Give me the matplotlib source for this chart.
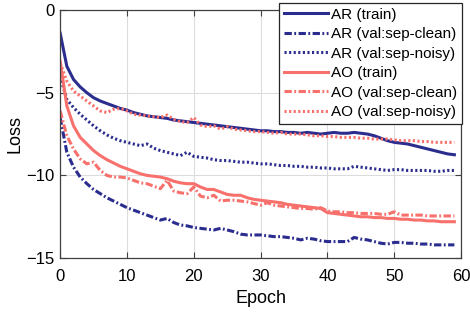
import matplotlib
matplotlib.use("Agg")
import matplotlib.pyplot as plt
import numpy as np

epochs = list(range(60))

ar_train = [-1.4, -3.4, -4.2, -4.65, -5.0, -5.3, -5.5, -5.65, -5.8, -5.95,
            -6.05, -6.2, -6.3, -6.4, -6.45, -6.5, -6.55, -6.65, -6.7, -6.75,
            -6.8, -6.85, -6.9, -6.95, -7.0, -7.05, -7.1, -7.15, -7.2, -7.25,
            -7.3, -7.3, -7.35, -7.35, -7.4, -7.4, -7.45, -7.4, -7.45, -7.5,
            -7.45, -7.4, -7.45, -7.45, -7.4, -7.45, -7.5, -7.6, -7.75, -7.9,
            -8.0, -8.05, -8.1, -8.2, -8.3, -8.4, -8.5, -8.6, -8.7, -8.75]

ar_val_clean = [-6.5, -8.6, -9.5, -10.1, -10.5, -10.85, -11.1, -11.35, -11.55, -11.75,
                -11.95, -12.1, -12.25, -12.4, -12.55, -12.7, -12.6, -12.85, -13.0, -13.05,
                -13.15, -13.2, -13.25, -13.3, -13.2, -13.3, -13.4, -13.55, -13.6, -13.6,
                -13.6, -13.65, -13.7, -13.7, -13.75, -13.8, -13.9, -13.8, -13.85, -13.95,
                -14.0, -14.0, -14.0, -14.0, -13.75, -13.85, -13.9, -14.0, -14.1, -14.15,
                -14.05, -14.05, -14.1, -14.1, -14.15, -14.15, -14.2, -14.2, -14.2, -14.2]

ar_val_noisy = [-4.0, -5.4, -5.9, -6.3, -6.65, -7.0, -7.3, -7.55, -7.75, -7.9,
                -8.0, -8.1, -8.2, -8.1, -8.35, -8.5, -8.6, -8.7, -8.8, -8.6,
                -8.85, -8.9, -8.95, -9.05, -9.1, -9.1, -9.15, -9.2, -9.2, -9.25,
                -9.3, -9.3, -9.35, -9.4, -9.4, -9.45, -9.45, -9.5, -9.5, -9.55,
                -9.55, -9.6, -9.6, -9.6, -9.45, -9.5, -9.55, -9.6, -9.65, -9.7,
                -9.65, -9.65, -9.7, -9.7, -9.7, -9.7, -9.75, -9.75, -9.7, -9.7]

ao_train = [-3.1, -5.8, -7.0, -7.7, -8.1, -8.5, -8.8, -9.05, -9.25, -9.45,
            -9.6, -9.75, -9.9, -10.0, -10.05, -10.1, -10.2, -10.35, -10.45, -10.5,
            -10.5, -10.7, -10.85, -10.85, -11.0, -11.15, -11.2, -11.2, -11.35, -11.45,
            -11.5, -11.55, -11.6, -11.65, -11.75, -11.8, -11.85, -11.9, -11.95, -12.0,
            -12.25, -12.3, -12.35, -12.4, -12.45, -12.5, -12.5, -12.55, -12.55, -12.6,
            -12.6, -12.65, -12.65, -12.7, -12.7, -12.75, -12.75, -12.8, -12.8, -12.8]

ao_val_clean = [-6.1, -7.6, -8.4, -9.0, -9.3, -9.2, -9.7, -10.0, -10.1, -10.1,
                -10.15, -10.3, -10.45, -10.5, -10.65, -10.8, -10.3, -10.95, -11.05, -11.1,
                -10.7, -11.25, -11.35, -11.2, -11.55, -11.5, -11.5, -11.55, -11.6, -11.7,
                -11.8, -11.65, -11.8, -11.85, -11.9, -11.95, -12.0, -12.0, -12.05, -11.95,
                -12.15, -12.2, -12.2, -12.25, -12.25, -12.3, -12.3, -12.3, -12.35, -12.35,
                -12.2, -12.4, -12.4, -12.4, -12.4, -12.45, -12.45, -12.45, -12.45, -12.45]

ao_val_noisy = [-3.2, -4.3, -4.9, -5.2, -5.5, -5.8, -6.1, -6.2, -6.0, -5.95,
                -6.1, -6.3, -6.35, -6.4, -6.45, -6.5, -6.35, -6.6, -6.75, -6.8,
                -6.5, -6.95, -7.05, -7.0, -7.2, -7.05, -7.2, -7.25, -7.3, -7.35,
                -7.35, -7.4, -7.45, -7.4, -7.5, -7.5, -7.5, -7.55, -7.6, -7.6,
                -7.65, -7.65, -7.7, -7.7, -7.7, -7.75, -7.75, -7.8, -7.8, -7.8,
                -7.85, -7.9, -7.9, -7.9, -7.95, -7.95, -8.0, -8.0, -8.0, -8.0]

series_labels = ["AR (train)", "AR (val:sep-clean)", "AR (val:sep-noisy)",
                 "AO (train)", "AO (val:sep-clean)", "AO (val:sep-noisy)"]
x_ticks = [0, 10, 20, 30, 40, 50, 60]
y_ticks = [-15, -10, -5, 0]

plt.rcParams['font.family'] = ['Liberation Sans', 'DejaVu Sans']

navy = '#2B2D8E'
salmon = '#F8706C'

fig = plt.figure(figsize=(4.7, 3.14), dpi=100)
ax = fig.add_axes([0.128, 0.178, 0.853, 0.79])

dashdot = (0, (2.4, 0.8, 0.6, 0.8))
dotted = (0, (0.7, 0.8))
series = [ar_train, ar_val_clean, ar_val_noisy, ao_train, ao_val_clean, ao_val_noisy]
colors = [navy, navy, navy, salmon, salmon, salmon]
styles = ['-', dashdot, dotted, '-', dashdot, dotted]
for ys, c, ls, lab in zip(series, colors, styles, series_labels):
    ax.plot(epochs, ys, color=c, linestyle=ls, linewidth=2.2, label=lab)

ax.set_xlim(0, 60)
ax.set_ylim(-15, 0)
ax.set_xticks(x_ticks)
ax.set_yticks(y_ticks)
ax.tick_params(direction='in', top=True, right=True, labelsize=12, length=4,
               color='#404040', width=0.8)
ax.tick_params(axis='x', pad=8)
ax.tick_params(axis='y', pad=4)
for s in ax.spines.values():
    s.set_color('#404040')
    s.set_linewidth(0.9)
ax.grid(True, color='#DCDCDC', linewidth=0.8)
ax.set_axisbelow(True)
ax.set_xlabel('Epoch', fontsize=13, labelpad=4)
ax.set_ylabel('Loss', fontsize=13, labelpad=2)

leg = ax.legend(loc='upper right', bbox_to_anchor=(1.002, 1.028), fontsize=11,
                frameon=True, fancybox=False, edgecolor='#262626', framealpha=1,
                handlelength=2.9, handletextpad=0.2, labelspacing=0.36,
                borderpad=0.3, borderaxespad=0.0)
leg.get_frame().set_linewidth(0.9)

fig.savefig('out.png', dpi=100)
